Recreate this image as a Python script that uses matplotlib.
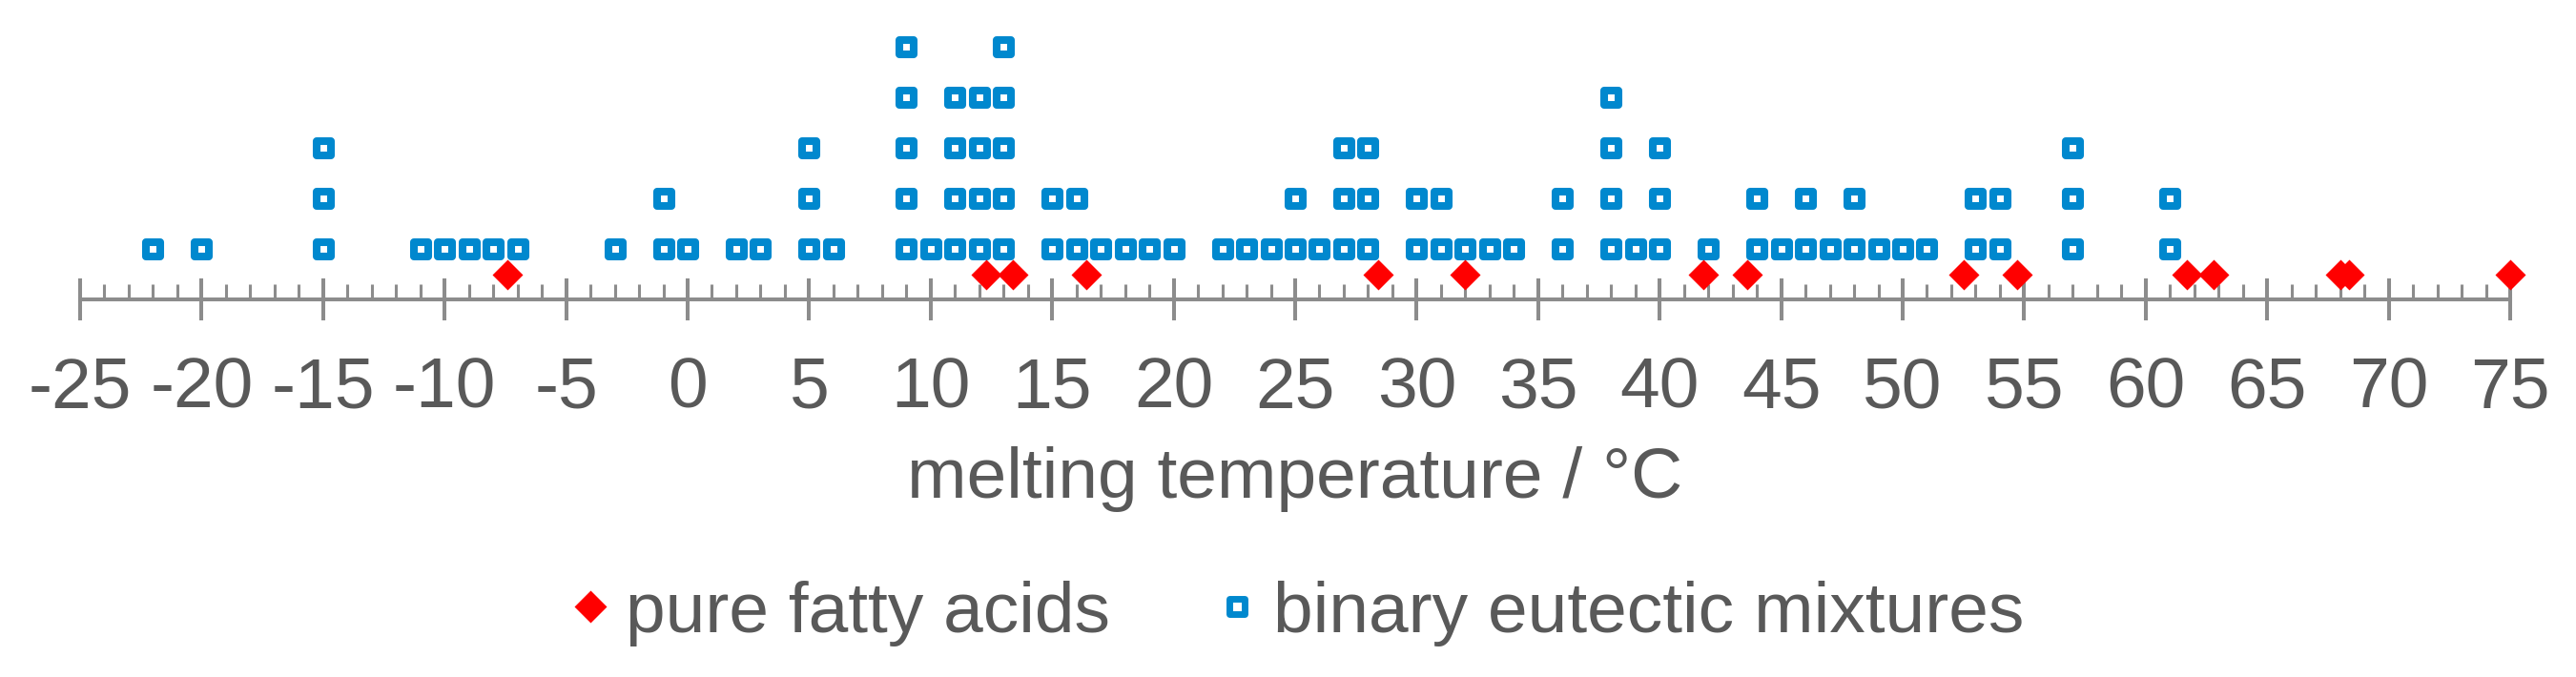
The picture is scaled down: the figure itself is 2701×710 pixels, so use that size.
import matplotlib.pyplot as plt
from matplotlib.lines import Line2D
from matplotlib.markers import MarkerStyle
from matplotlib.ticker import MultipleLocator

plt.rcParams['font.family'] = ['Liberation Sans', 'DejaVu Sans']
plt.rcParams['axes.unicode_minus'] = False

# pure fatty acids: melting points (°C)
pure_acids = [-7.4, 12.3, 13.4, 16.4, 28.4, 32.0, 41.8, 43.6, 52.5, 54.7,
              61.7, 62.8, 68.0, 68.35, 75.0]

# binary eutectic mixtures: melting point (°C) and number of mixtures
mix_temps = [-22, -20, -15, -11, -10, -9, -8, -7, -3, -1, 0, 2, 3, 5, 6,
             9, 10, 11, 12, 13, 15, 16, 17, 18, 19, 20, 22, 23, 24, 25, 26,
             27, 28, 30, 31, 32, 33, 34, 36, 38, 39, 40, 42, 44, 45, 46, 47,
             48, 49, 50, 51, 53, 54, 57, 61]
mix_counts = [1, 1, 3, 1, 1, 1, 1, 1, 1, 2, 1, 1, 1, 3, 1,
              5, 1, 4, 4, 5, 2, 2, 1, 1, 1, 1, 1, 1, 1, 2, 1,
              3, 3, 2, 2, 1, 1, 1, 2, 4, 1, 3, 1, 2, 1, 2, 1,
              2, 1, 1, 1, 2, 2, 3, 2]

blue = '#0088CE'
red = '#FF0000'
grey = '#8C8C8C'
text_col = '#595959'

# stack the mixtures as a dot plot
mx, my = [], []
for t, c in zip(mix_temps, mix_counts):
    for k in range(c):
        mx.append(t)
        my.append(k + 0.5)

fig = plt.figure(figsize=(27.01, 7.10), dpi=100)
ax = fig.add_axes([84 / 2701, (710 - 314) / 710, (2632 - 84) / 2701, 294 / 710])

sq = MarkerStyle('s', joinstyle='round')
ax.plot(mx, my, ls='none', marker=sq, ms=10.8, mew=5.8, mec=blue, mfc='white',
        clip_on=False, zorder=3)
ax.plot(pure_acids, [0] * len(pure_acids), ls='none', marker='D', ms=16.3,
        mfc=red, mec='none', clip_on=False, zorder=4)

ax.set_xlim(-25, 75)
ax.set_ylim(-0.5, -0.5 + 294 / 53)
for s in ['top', 'left', 'right']:
    ax.spines[s].set_visible(False)
ax.spines['bottom'].set_color(grey)
ax.spines['bottom'].set_linewidth(2.9)
ax.yaxis.set_visible(False)

ax.xaxis.set_major_locator(MultipleLocator(5))
ax.xaxis.set_minor_locator(MultipleLocator(1))
ax.tick_params(axis='x', which='major', direction='inout', length=31, width=2.9,
               color=grey, labelsize=54, labelcolor=text_col, pad=27.5)
ax.tick_params(axis='x', which='minor', direction='in', length=11.5, width=2.2,
               color=grey)
ax.set_xlabel('melting temperature / °C', fontsize=54, color=text_col, labelpad=18)

handles = [
    Line2D([], [], ls='none', marker='D', ms=17, mfc=red, mec='none'),
    Line2D([], [], ls='none', marker=sq, ms=11, mew=5, mec=blue, mfc='white'),
]
fig.legend(handles, ['pure fatty acids', 'binary eutectic mixtures'],
           loc='center', bbox_to_anchor=(1363 / 2701, 1 - 643 / 710), ncol=2,
           frameon=False, fontsize=54, labelcolor=text_col, handlelength=0.4,
           handletextpad=0.3, columnspacing=1.57, borderpad=0)

fig.savefig('out.png', dpi=100)
plt.close(fig)
